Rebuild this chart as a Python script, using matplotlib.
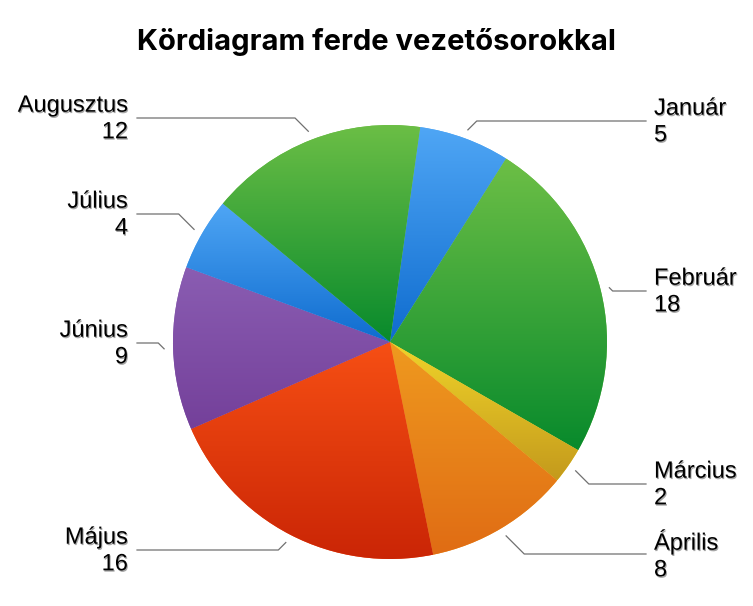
import matplotlib.pyplot as plt
import matplotlib.patheffects as pe
import numpy as np
from matplotlib.colors import LinearSegmentedColormap

# Adatok
honapok = ['Január', 'Február', 'Március', 'Április', 'Május', 'Június', 'Július', 'Augusztus']
ertekek = [5, 18, 2, 8, 16, 9, 4, 12]

# Színátmenetek (felső -> alsó szín)
felso_szinek = ['#4fa6f5', '#6dbf46', '#f0d42a', '#ef9a1f', '#f64f14', '#8a5db2', '#4fa6f5', '#6dbf46']
also_szinek = ['#0f6ccf', '#088a2c', '#c49a1c', '#e06c14', '#c92405', '#74409a', '#0f6ccf', '#088a2c']

# Vezetővonalak vízszintes szakaszának magassága (pixel sor)
vonal_y = [121, 291, 484, 554, 550, 343, 214, 118]

W, H = 753, 606
cx, cy, r = 390, H - 342, 217

fig = plt.figure(figsize=(W / 100, H / 100), dpi=100)
ax = fig.add_axes([0, 0, 1, 1])

wedges, _ = ax.pie(ertekek, colors=felso_szinek, startangle=82, counterclock=False,
                   center=(cx, cy), radius=r, wedgeprops=dict(linewidth=0))

# Színátmenet minden szeletre
grad = np.linspace(0, 1, 256).reshape(-1, 1)
for w, c_top, c_bot in zip(wedges, felso_szinek, also_szinek):
    verts = w.get_patch_transform().transform(w.get_path().vertices)
    x0, y0 = verts.min(axis=0)
    x1, y1 = verts.max(axis=0)
    cmap = LinearSegmentedColormap.from_list('g', [c_bot, c_top])
    im = ax.imshow(grad, cmap=cmap, extent=(x0, x1, y0, y1), origin='lower',
                   aspect='auto', zorder=2, interpolation='bilinear')
    im.set_clip_path(w)

ax.set_xlim(0, W)
ax.set_ylim(0, H)
ax.set_aspect('equal')
ax.axis('off')

arnyek = [pe.withSimplePatchShadow(offset=(0.7, -1.0), shadow_rgbFace='black', alpha=0.35)]

# Vezetővonalak és feliratok
for w, nev, ertek, ly in zip(wedges, honapok, ertekek, vonal_y):
    mid = np.deg2rad((w.theta1 + w.theta2) / 2)
    tx = cx + (r + 9) * np.cos(mid)
    ty = cy + (r + 9) * np.sin(mid)
    ly = H - ly
    jobb = np.cos(mid) > 0
    dy = abs(ly - ty)
    ex = tx + dy if jobb else tx - dy
    vege = 646 if jobb else 137
    ax.plot([tx, ex, vege], [ty, ly, ly], color='#707070', lw=0.9, zorder=3)
    if jobb:
        ax.text(654, ly - 1, f'{nev}\n{ertek}', ha='left', va='center', fontsize=17,
                family='Liberation Sans', linespacing=1.27, path_effects=arnyek)
    else:
        ax.text(128, ly - 1, f'{nev}\n{ertek}', ha='right', va='center', fontsize=17,
                family='Liberation Sans', linespacing=1.27, multialignment='right',
                path_effects=arnyek)

fig.text(376 / W, 1 - 42 / H, 'Kördiagram ferde vezetősorokkal', ha='center', va='center',
         fontsize=21, fontweight='bold', family='Inter')

fig.savefig('out.png', dpi=100)
